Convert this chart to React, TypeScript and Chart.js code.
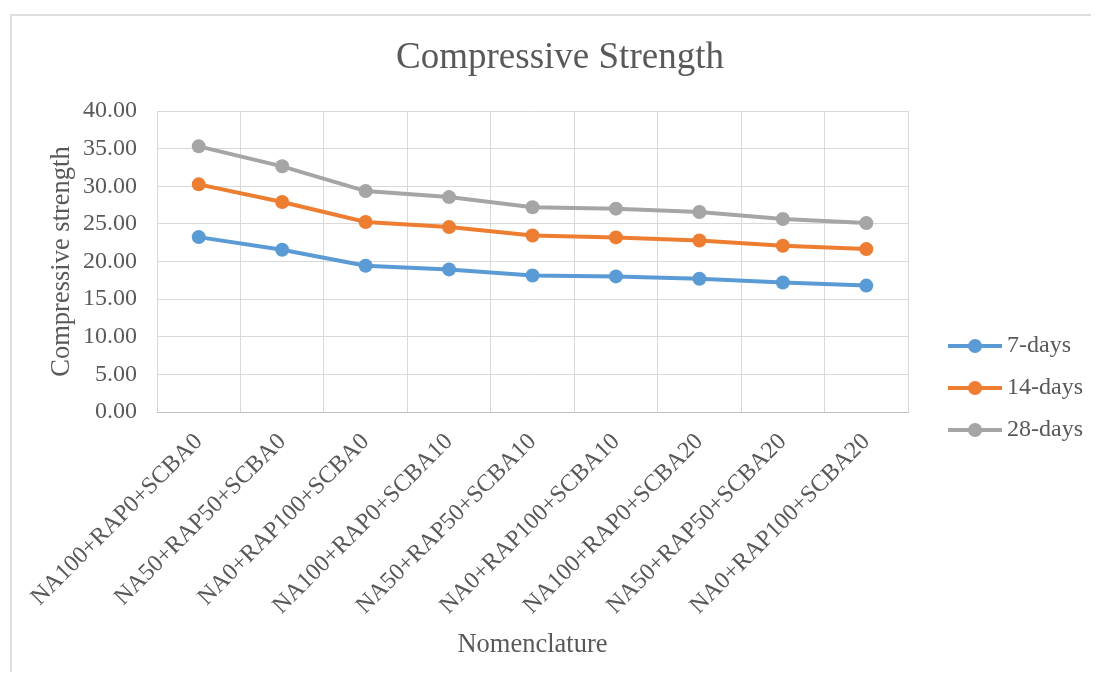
import React, { useEffect, useRef } from "react";
import { Chart, registerables } from "chart.js";

Chart.register(...registerables);

const categories = [
  "NA100+RAP0+SCBA0",
  "NA50+RAP50+SCBA0",
  "NA0+RAP100+SCBA0",
  "NA100+RAP0+SCBA10",
  "NA50+RAP50+SCBA10",
  "NA0+RAP100+SCBA10",
  "NA100+RAP0+SCBA20",
  "NA50+RAP50+SCBA20",
  "NA0+RAP100+SCBA20",
];

const days7 = [23.24, 21.57, 19.44, 18.95, 18.13, 18.02, 17.71, 17.2, 16.8];
const days14 = [30.25, 27.9, 25.24, 24.57, 23.45, 23.2, 22.8, 22.1, 21.65];
const days28 = [35.3, 32.65, 29.36, 28.56, 27.2, 27.02, 26.57, 25.64, 25.1];

const seriesNames = ["7-days", "14-days", "28-days"];
const seriesColors = ["#5B9BD5", "#ED7D31", "#A5A5A5"];

const yMin = 0;
const yMax = 40;
const yStep = 5;

const FONT = "'Liberation Serif', 'Times New Roman', serif";
const TEXT = "#595959";

function makeLegendIcon(color: string) {
  const c = document.createElement("canvas");
  c.width = 54;
  c.height = 16;
  const ctx = c.getContext("2d")!;
  ctx.strokeStyle = color;
  ctx.lineWidth = 4;
  ctx.beginPath();
  ctx.moveTo(0, 8);
  ctx.lineTo(54, 8);
  ctx.stroke();
  ctx.fillStyle = color;
  ctx.beginPath();
  ctx.arc(27, 8, 7, 0, Math.PI * 2);
  ctx.fill();
  return c;
}

export default function App() {
  const ref = useRef<HTMLCanvasElement>(null);

  useEffect(() => {
    if (!ref.current) return;
    const values = [days7, days14, days28];
    const icons = seriesColors.map(makeLegendIcon);
    const chart = new Chart(ref.current, {
      type: "line",
      data: {
        labels: categories,
        datasets: values.map((v, i) => ({
          label: seriesNames[i],
          data: v,
          borderColor: seriesColors[i],
          backgroundColor: seriesColors[i],
          borderWidth: 4,
          pointRadius: 7,
          pointBorderWidth: 0,
          pointHoverRadius: 7,
          tension: 0,
          yAxisID: "y",
        })),
      },
      options: {
        responsive: false,
        animation: false,
        layout: { padding: { left: 19, right: -2, top: 0, bottom: 9 } },
        plugins: {
          tooltip: { enabled: false },
          title: {
            display: true,
            text: "Compressive Strength",
            color: TEXT,
            font: { family: FONT, size: 37, weight: "normal" },
            padding: { top: 28, bottom: 30.6 },
          },
          legend: {
            position: "right",
            align: "center",
            title: {
              display: true,
              text: " ",
              font: { size: 12 },
              padding: { top: 0, bottom: 90.6 },
            },
            labels: {
              color: TEXT,
              font: { family: FONT, size: 24 },
              padding: 18,
              usePointStyle: true,
              pointStyleWidth: 40,
              generateLabels: (ch: any) => {
                const base = Chart.defaults.plugins.legend.labels.generateLabels(ch);
                return base.map((l: any, i: number) => ({
                  ...l,
                  pointStyle: icons[i],
                  fontColor: TEXT,
                }));
              },
            },
          },
        },
        scales: {
          x: {
            type: "category",
            offset: true,
            grid: { offset: true, color: "#D9D9D9", lineWidth: 1, drawTicks: false },
            border: { display: true, color: "#BFBFBF", width: 1 },
            ticks: {
              color: TEXT,
              font: { family: FONT, size: 24 },
              minRotation: 45,
              maxRotation: 45,
              autoSkip: false,
              padding: 16,
            },
            title: {
              display: true,
              text: "Nomenclature",
              color: TEXT,
              font: { family: FONT, size: 26.5 },
              padding: { top: 4, bottom: 2 },
            },
            afterFit: (s: any) => {
              s.height = 251;
              s.paddingLeft = 0;
              s.paddingRight = 0;
            },
          },
          y: {
            type: "linear",
            position: "left",
            min: yMin,
            max: yMax,
            grid: { color: "#D9D9D9", lineWidth: 1, drawTicks: false },
            border: { display: false },
            ticks: {
              stepSize: yStep,
              color: TEXT,
              font: { family: FONT, size: 24 },
              padding: 20,
              callback: (v: any) => Number(v).toFixed(2),
            },
            title: {
              display: true,
              text: "Compressive strength",
              color: TEXT,
              font: { family: FONT, size: 26.5 },
              padding: { top: 19, bottom: 4 },
            },
            afterFit: (s: any) => {
              s.width = 130;
              s.paddingTop = 0;
              s.paddingBottom = 0;
            },
          },
          spacer: {
            type: "linear",
            position: "right",
            display: true,
            grid: { display: false, drawTicks: false },
            border: { display: false },
            ticks: { display: false },
            afterFit: (s: any) => {
              s.width = 29;
            },
          },
        },
      },
    } as any);
    return () => chart.destroy();
  }, []);

  return (
    <div style={{ position: "relative", width: 1083, height: 664, overflow: "hidden" }}>
      <div
        style={{
          position: "absolute",
          left: 2,
          top: 6,
          width: 1200,
          height: 800,
          border: "2px solid #DEDEDE",
        }}
      />
      <canvas
        ref={ref}
        width={1083}
        height={664}
        style={{ position: "absolute", left: 0, top: 0, width: 1083, height: 664 }}
      />
    </div>
  );
}
